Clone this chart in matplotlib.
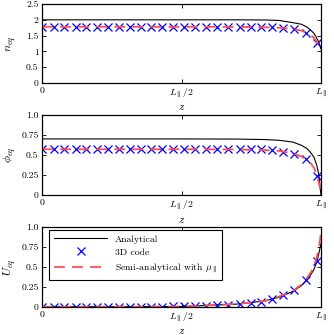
import numpy as np
import matplotlib
matplotlib.use('Agg')
import matplotlib.pyplot as plt

plt.rcParams['font.family'] = 'serif'
plt.rcParams['font.serif'] = ['cmr10', 'DejaVu Serif']
plt.rcParams['mathtext.fontset'] = 'cm'
plt.rcParams['axes.formatter.use_mathtext'] = True

# positions des points du code 3D (fraction de L_par)
z3d = [0, .041, .080, .120, .158, .197, .235, .275, .314, .353, .392, .431, .471,
       .510, .549, .589, .628, .667, .708, .749, .785, .826, .865, .903, .946, .984]
n3d = [1.78] * 21 + [1.76, 1.75, 1.70, 1.59, 1.28]
phi3d = [0.571] * 21 + [0.5625, 0.54, 0.517, 0.45, 0.24]
u3d = [0, 0, 0, 0, 0, 0, 0, 0, 0, .001, .002, .003, .005, .007, .01, .013, .018,
       .025, .033, .046, .062, .095, .145, .216, .33, .577]

# courbes
zc = [0, 0.5, 0.7, 0.8, 0.85, 0.9, 0.93, 0.95, 0.965, 0.975, 0.985, 0.992, 1.0]
n_ana = [2.0, 2.0, 2.0, 1.995, 1.98, 1.91, 1.86, 1.77, 1.66, 1.57, 1.42, 1.30, 1.08]
n_semi = [1.78, 1.78, 1.775, 1.765, 1.75, 1.71, 1.66, 1.58, 1.50, 1.43, 1.30, 1.22, 1.12]
phi_ana = [.70, .70, .698, .692, .683, .66, .62, .58, .52, .47, .37, .26, 0.0]
phi_semi = [.571, .571, .568, .56, .55, .52, .48, .44, .39, .34, .25, .16, .03]
u_ana = [0, .003, .035, .075, .12, .195, .265, .34, .41, .47, .56, .66, .79]
u_semi = [0, .004, .035, .075, .13, .20, .28, .36, .44, .51, .62, .73, .92]

fig = plt.figure(figsize=(3.34, 3.35), dpi=100)
pos = [[0.126, 0.752, 0.835, 0.236],
       [0.126, 0.418, 0.835, 0.239],
       [0.126, 0.084, 0.835, 0.239]]
ylabels = [r'$n_{eq}$', r'$\phi_{eq}$', r'$U_{eq}$']
ylims = [(0, 2.5), (0, 1), (0, 1)]
yticks = [[0, 0.5, 1, 1.5, 2, 2.5], [0, 0.25, 0.5, 0.75, 1.0], [0, 0.25, 0.5, 0.75, 1.0]]
ytl = [['0', '0.5', '1', '1.5', '2', '2.5'],
       ['0', '0.25', '0.5', '0.75', '1.0'],
       ['0', '0.25', '0.5', '0.75', '1.0']]
data = [(n_ana, n3d, n_semi), (phi_ana, phi3d, phi_semi), (u_ana, u3d, u_semi)]

for i in range(3):
    ax = fig.add_axes(pos[i])
    ana, pts, semi = data[i]
    ax.plot(zc, ana, color='black', lw=0.8, label='Analytical')
    ax.plot(z3d, pts, 'x', color='blue', ms=5.5, mew=0.9, label='3D code')
    ax.plot(zc, semi, color='#ff5050', lw=1.3, dashes=(6, 4),
            label=r'Semi-analytical with $\mu_\parallel$')
    ax.set_xlim(0, 1)
    ax.set_ylim(*ylims[i])
    ax.set_xticks([0, 0.5, 1])
    ax.set_xticklabels(['0', r'$L_\parallel/2$', r'$L_\parallel$'], fontsize=7)
    ax.set_yticks(yticks[i])
    ax.set_yticklabels(ytl[i], fontsize=7)
    ax.tick_params(direction='in', top=True, right=True, length=3, width=0.6, pad=2.5)
    ax.set_xlabel(r'$z$', fontsize=8)
    ax.set_ylabel(ylabels[i], fontsize=8.5)
    ax.xaxis.set_label_coords(0.5, -0.25)
    ax.yaxis.set_label_coords(-0.088, 0.5)
    for s in ax.spines.values():
        s.set_linewidth(0.9)
    if i == 2:
        leg = ax.legend(loc='upper left', fontsize=7, fancybox=False,
                        edgecolor='black', framealpha=1, handlelength=5.5,
                        borderpad=0.5, labelspacing=0.45, borderaxespad=0,
                        bbox_to_anchor=(0.025, 0.96))
        leg.get_frame().set_linewidth(0.8)

fig.savefig('out.png', dpi=100)
